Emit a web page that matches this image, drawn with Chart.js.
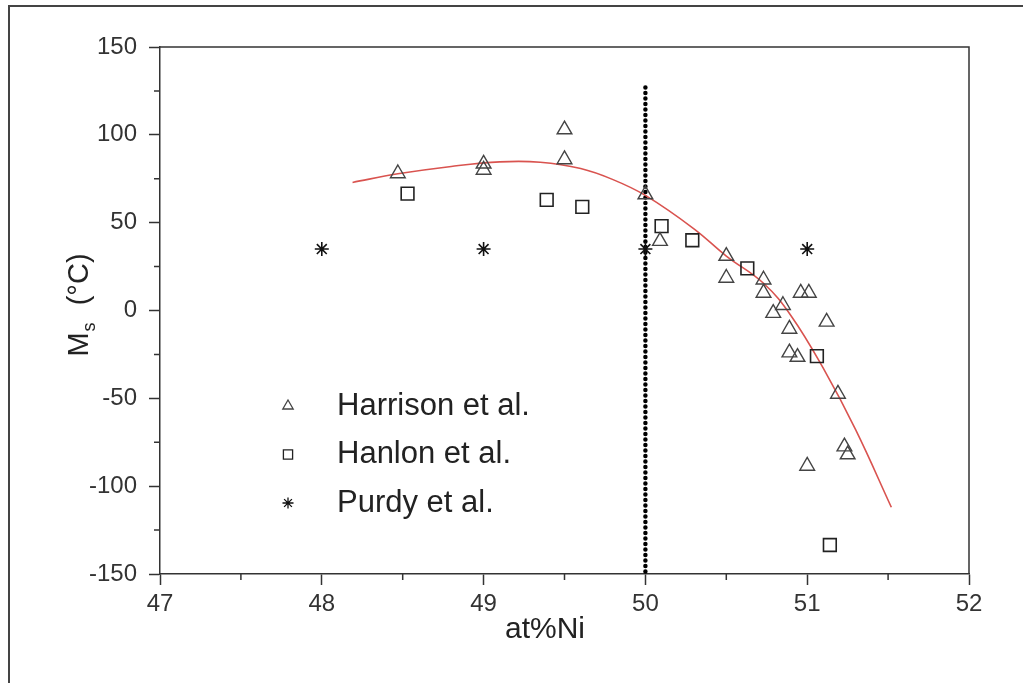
<!DOCTYPE html>
<html>
<head>
<meta charset="utf-8">
<title>Ms vs at%Ni</title>
<script src="https://cdn.jsdelivr.net/npm/chart.js@4/dist/chart.umd.min.js"></script>
<style>
  html, body { margin: 0; padding: 0; background: #fff; }
  #wrap { position: relative; width: 1023px; height: 683px; overflow: hidden; }
  #frame { position: absolute; left: 8px; top: 5px; width: 1100px; height: 800px;
           border-left: 2px solid #444; border-top: 2px solid #444; pointer-events: none; }
  canvas { position: absolute; left: 0; top: 0; }
</style>
</head>
<body>
<div id="wrap">
  <canvas id="msChart" width="1023" height="683"></canvas>
  <div id="frame"></div>
</div>
<script>
// Harrison et al.
const harrisonNi = [48.47, 49.0, 49.0, 49.5, 49.5, 50.0, 50.09, 50.5, 50.5, 50.73, 50.73, 50.85, 50.79, 50.96, 51.01, 51.12, 50.89, 50.89, 50.94, 51.19, 51.23, 51.25, 51.0];
const harrisonMs = [78, 83.5, 80, 103, 86, 66, 39.5, 31, 18.5, 17.5, 10, 3, -1.5, 10, 10, -6.5, -10.5, -24, -26.5, -47.5, -77.5, -82, -88.5];
// Hanlon et al.
const hanlonNi = [48.53, 49.39, 49.61, 50.10, 50.29, 50.63, 51.06, 51.14];
const hanlonMs = [66.5, 63, 59, 48, 40, 24, -26, -133.5];
// Purdy et al.
const purdyNi = [48.0, 49.0, 50.0, 51.0];
const purdyMs = [35, 35, 35, 35];
// fitted trend
const fitNi = [48.19, 48.47, 48.8, 49.1, 49.35, 49.6, 49.8, 50.0, 50.3, 50.5, 50.73, 50.9, 51.1, 51.3, 51.52];
const fitMs = [72.9, 77.8, 82.0, 84.6, 84.4, 80.8, 74.5, 65.5, 46.5, 31.0, 15.5, -3, -33, -68, -112];
// equiatomic marker
const equiNi = [50, 50];
const equiMs = [127, -150];

const xTicks = [47, 48, 49, 50, 51, 52];
const yTicks = [-150, -100, -50, 0, 50, 100, 150];

const pts = (xs, ys) => xs.map((x, i) => ({ x: x, y: ys[i] }));

const legendItems = [
  { label: 'Harrison et al.', style: 'triangle', radius: 6, color: '#444' },
  { label: 'Hanlon et al.', style: 'rect', radius: 6.5, color: '#222' },
  { label: 'Purdy et al.', style: 'star', radius: 5.5, color: '#111' }
];

const axisColor = '#333';

function midpoints(arr) {
  const out = [];
  for (let i = 0; i < arr.length - 1; i++) out.push((arr[i] + arr[i + 1]) / 2);
  return out;
}

const decorations = {
  id: 'decorations',
  afterDraw(chart) {
    const ctx = chart.ctx;
    const a = chart.chartArea;
    const xs = chart.scales.x, ys = chart.scales.y;
    ctx.save();
    // box round the plot
    ctx.strokeStyle = axisColor;
    ctx.lineWidth = 1.5;
    ctx.beginPath();
    ctx.moveTo(a.left, a.top);
    ctx.lineTo(a.right, a.top);
    ctx.lineTo(a.right, a.bottom);
    ctx.stroke();

    // minor ticks
    ctx.beginPath();
    midpoints(xTicks).forEach(v => {
      const px = xs.getPixelForValue(v);
      ctx.moveTo(px, a.bottom);
      ctx.lineTo(px, a.bottom + 6);
    });
    midpoints(yTicks).forEach(v => {
      const py = ys.getPixelForValue(v);
      ctx.moveTo(a.left, py);
      ctx.lineTo(a.left - 6, py);
    });
    ctx.stroke();

    // axis titles
    ctx.fillStyle = '#222';
    ctx.textBaseline = 'middle';
    ctx.textAlign = 'center';
    ctx.font = '30px "Liberation Sans", Arial, sans-serif';
    ctx.fillText('at%Ni', 545, 630);

    ctx.translate(80, 305);
    ctx.rotate(-Math.PI / 2);
    ctx.textAlign = 'left';
    const big = '29px "Liberation Sans", Arial, sans-serif';
    const small = '18px "Liberation Sans", Arial, sans-serif';
    ctx.font = big;
    const wM = ctx.measureText('M').width;
    ctx.font = small;
    const wS = ctx.measureText('s').width;
    ctx.font = big;
    const rest = '  (\u00B0C)';
    const wR = ctx.measureText(rest).width;
    let x0 = -(wM + wS + 2 + wR) / 2;
    ctx.fillText('M', x0, 0);
    ctx.font = small;
    ctx.fillText('s', x0 + wM + 1, 10);
    ctx.font = big;
    ctx.fillText(rest, x0 + wM + wS + 2, 0);
    ctx.setTransform(1, 0, 0, 1, 0, 0);

    // legend
    ctx.font = '31px "Liberation Sans", Arial, sans-serif';
    ctx.textAlign = 'left';
    ctx.textBaseline = 'middle';
    legendItems.forEach((item, i) => {
      const y = 406 + i * 48.5;
      ctx.strokeStyle = item.color;
      ctx.fillStyle = 'rgba(0,0,0,0)';
      ctx.lineWidth = 1.3;
      Chart.helpers.drawPoint(ctx, {
        pointStyle: item.style, radius: item.radius, rotation: 0, borderWidth: 1.3
      }, 288, y);
      ctx.fillStyle = '#222';
      ctx.fillText(item.label, 337, y);
    });
    ctx.restore();
  }
};

const tickFont = { family: '"Liberation Sans", Arial, sans-serif', size: 24 };

new Chart(document.getElementById('msChart'), {
  type: 'scatter',
  data: {
    datasets: [
      {
        label: 'Harrison et al.',
        data: pts(harrisonNi, harrisonMs),
        pointStyle: 'triangle',
        pointRadius: 8.5,
        borderColor: '#444',
        borderWidth: 1.4,
        backgroundColor: 'rgba(0,0,0,0)'
      },
      {
        label: 'Hanlon et al.',
        data: pts(hanlonNi, hanlonMs),
        pointStyle: 'rect',
        pointRadius: 9,
        borderColor: '#222',
        borderWidth: 1.6,
        backgroundColor: 'rgba(0,0,0,0)'
      },
      {
        label: 'Purdy et al.',
        data: pts(purdyNi, purdyMs),
        pointStyle: 'star',
        pointRadius: 7,
        borderColor: '#111',
        borderWidth: 1.6,
        backgroundColor: 'rgba(0,0,0,0)'
      },
      {
        label: 'fit',
        data: pts(fitNi, fitMs),
        showLine: true,
        tension: 0.4,
        pointRadius: 0,
        borderColor: '#d9534f',
        borderWidth: 1.6
      },
      {
        label: '50 at%',
        data: pts(equiNi, equiMs),
        showLine: true,
        pointRadius: 0,
        borderColor: '#000',
        borderWidth: 4.5,
        borderDash: [0, 5.5],
        borderCapStyle: 'round'
      }
    ]
  },
  options: {
    responsive: false,
    animation: false,
    devicePixelRatio: 1,
    layout: { padding: { left: 0, top: 47, right: 54, bottom: 0 } },
    plugins: {
      legend: { display: false },
      tooltip: { enabled: false }
    },
    scales: {
      x: {
        type: 'linear',
        min: 47,
        max: 52,
        afterBuildTicks: s => { s.ticks = xTicks.map(v => ({ value: v })); },
        afterFit: s => { s.height = 109; },
        grid: { drawOnChartArea: false, drawTicks: true, tickLength: 11, tickColor: axisColor, tickWidth: 1.5 },
        border: { display: true, color: axisColor, width: 1.5 },
        ticks: { font: tickFont, color: '#333', padding: 5, maxRotation: 0, autoSkip: false }
      },
      y: {
        type: 'linear',
        min: -150,
        max: 150,
        afterBuildTicks: s => { s.ticks = yTicks.map(v => ({ value: v })); },
        afterFit: s => { s.width = 160; },
        grid: { drawOnChartArea: false, drawTicks: true, tickLength: 11, tickColor: axisColor, tickWidth: 1.5 },
        border: { display: true, color: axisColor, width: 1.5 },
        ticks: { font: tickFont, color: '#333', padding: 12, autoSkip: false }
      }
    }
  },
  plugins: [decorations]
});
</script>
</body>
</html>
